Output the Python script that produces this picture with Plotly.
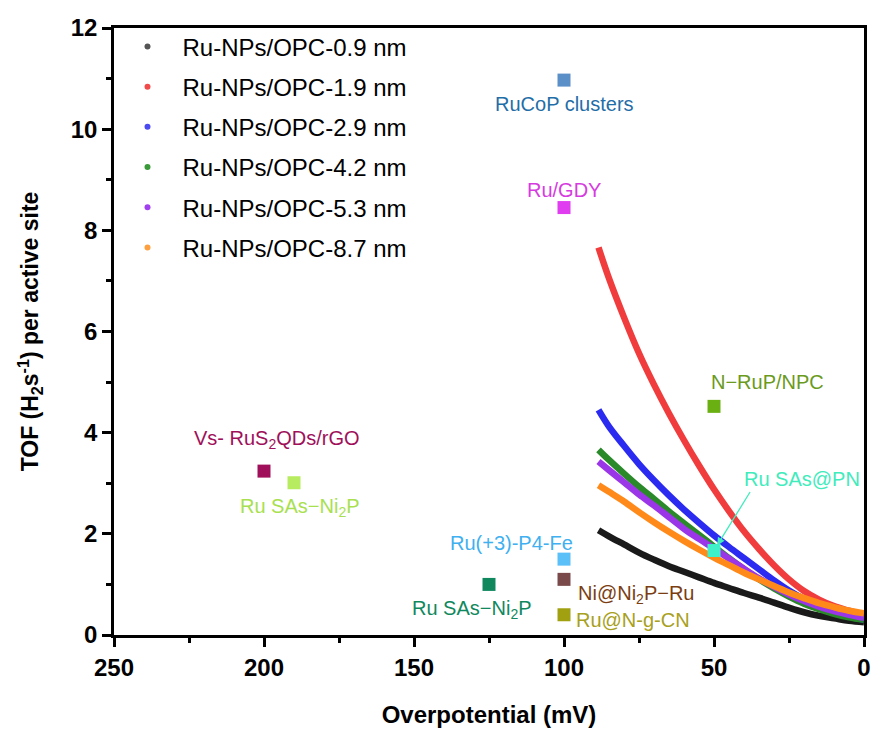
import plotly.graph_objects as go

# ---- curve data (overpotential mV vs TOF) ----
overpotential = [0, 5, 10, 15, 20, 25, 30, 35, 40, 45, 50, 55, 60, 65, 70, 75, 80, 85, 88.5]
tof_0_9 = [0.25, 0.28, 0.33, 0.38, 0.45, 0.54, 0.64, 0.74, 0.83, 0.93, 1.03, 1.14, 1.25, 1.36, 1.49, 1.63, 1.79, 1.95, 2.07]
tof_1_9 = [0.40, 0.48, 0.57, 0.70, 0.87, 1.10, 1.38, 1.70, 2.05, 2.45, 2.88, 3.35, 3.85, 4.38, 4.95, 5.57, 6.28, 7.05, 7.66]
tof_2_9 = [0.30, 0.37, 0.46, 0.57, 0.71, 0.88, 1.08, 1.30, 1.52, 1.74, 1.97, 2.22, 2.48, 2.76, 3.06, 3.38, 3.74, 4.12, 4.45]
tof_4_2 = [0.30, 0.35, 0.42, 0.51, 0.62, 0.76, 0.92, 1.10, 1.30, 1.52, 1.75, 1.98, 2.21, 2.44, 2.69, 2.93, 3.19, 3.46, 3.66]
tof_5_3 = [0.34, 0.40, 0.47, 0.56, 0.67, 0.80, 0.95, 1.12, 1.31, 1.51, 1.71, 1.90, 2.10, 2.33, 2.56, 2.78, 3.02, 3.26, 3.43]
tof_8_7 = [0.43, 0.48, 0.55, 0.63, 0.73, 0.84, 0.97, 1.10, 1.23, 1.38, 1.53, 1.69, 1.86, 2.04, 2.23, 2.43, 2.64, 2.83, 2.96]

series_names = ["Ru-NPs/OPC-0.9 nm", "Ru-NPs/OPC-1.9 nm", "Ru-NPs/OPC-2.9 nm",
                "Ru-NPs/OPC-4.2 nm", "Ru-NPs/OPC-5.3 nm", "Ru-NPs/OPC-8.7 nm"]
series_values = [tof_0_9, tof_1_9, tof_2_9, tof_4_2, tof_5_3, tof_8_7]
series_colors = ["#1a1a1a", "#f03c3c", "#2a2af0", "#2a8a2a", "#9a35e8", "#ff8a1a"]
legend_colors = ["#555555", "#f04a4a", "#4a4af0", "#3a9a3a", "#a040f0", "#ffa040"]

# ---- literature points ----
ref_labels = ["RuCoP clusters", "Ru/GDY", "N\u2212RuP/NPC", "Ru SAs@PN",
              "Vs- RuS<sub>2</sub>QDs/rGO", "Ru SAs\u2212Ni<sub>2</sub>P", "Ru(+3)-P4-Fe",
              "Ni@Ni<sub>2</sub>P\u2212Ru", "Ru@N-g-CN", "Ru SAs\u2212Ni<sub>2</sub>P"]
ref_x = [100, 100, 50, 50, 200, 190, 100, 100, 100, 125]
ref_y = [10.97, 8.45, 4.52, 1.67, 3.24, 3.01, 1.50, 1.10, 0.40, 1.00]
ref_marker_colors = ["#5b8fc8", "#e03cf0", "#6ab012", "#3ff0c8", "#a0105a",
                     "#b8ec60", "#5cc0f8", "#7a4a4a", "#a0a010", "#10885e"]
ref_text_colors = ["#1f6ea8", "#d63be0", "#6a9a20", "#40ecbc", "#a0105a",
                   "#a8e050", "#40b0f0", "#7a3e12", "#a8a020", "#10885e"]
label_shift = [(0, -24), (0, 18), (53, 24), (88, 72), (13, 32), (6, -25),
               (-53, 16), (72, -15), (69, -5), (-17, -25)]

FONT = "Liberation Sans, Arial, sans-serif"

fig = go.Figure()

for i, (name, vals, col) in enumerate(zip(series_names, series_values, series_colors)):
    fig.add_trace(go.Scatter(
        x=overpotential, y=vals, mode="lines",
        line=dict(color=col, width=6.5, shape="spline", smoothing=1.0),
        showlegend=False, hoverinfo="skip"))
for i, (name, col) in enumerate(zip(series_names, legend_colors)):
    fig.add_trace(go.Scatter(
        x=[None], y=[None], mode="markers", name=name,
        marker=dict(color=col, size=6),
        legendgroup="g%d" % i, showlegend=True))

fig.add_trace(go.Scatter(
    x=ref_x, y=ref_y, mode="markers", showlegend=False,
    marker=dict(symbol="square", size=13, color=ref_marker_colors, line=dict(width=0))))

annotations = []
for lab, x, y, tc, (dx, dy) in zip(ref_labels, ref_x, ref_y, ref_text_colors, label_shift):
    annotations.append(dict(x=x, y=y, xref="x", yref="y", text=lab, showarrow=False,
                            xshift=dx, yshift=dy,
                            font=dict(family=FONT, size=20, color=tc)))
# arrow for Ru SAs@PN
annotations.append(dict(x=ref_x[3], y=ref_y[3], xref="x", yref="y", text="",
                        showarrow=True, ax=37, ay=-60, arrowhead=2, arrowsize=1.2,
                        arrowwidth=1.3, arrowcolor="#40ecbc", standoff=6))

fig.update_layout(
    width=879, height=742,
    margin=dict(l=114, r=8, t=28, b=107),
    paper_bgcolor="white", plot_bgcolor="white",
    font=dict(family=FONT, color="black"),
    annotations=annotations,
    legend=dict(x=-0.002, y=1.006, xanchor="left", yanchor="top",
                font=dict(family=FONT, size=24, color="black"),
                bgcolor="rgba(0,0,0,0)", traceorder="grouped", tracegroupgap=6,
                itemwidth=60),
    xaxis=dict(range=[250, 0], tickvals=[250, 200, 150, 100, 50, 0],
               showline=True, linewidth=2.5, linecolor="black", mirror=True,
               ticks="outside", ticklen=9, tickwidth=2.5, tickcolor="black",
               minor=dict(tickvals=[225, 175, 125, 75, 25], ticks="outside",
                          ticklen=5, tickwidth=2.5, tickcolor="black"),
               showgrid=False, zeroline=False,
               tickfont=dict(family=FONT, size=24, color="black", weight="bold"),
               title=dict(text="<b>Overpotential (mV)</b>", standoff=27,
                          font=dict(family=FONT, size=24, color="black"))),
    yaxis=dict(range=[0, 12], tickvals=[0, 2, 4, 6, 8, 10, 12],
               showline=True, linewidth=2.5, linecolor="black", mirror=True,
               ticks="outside", ticklen=9, tickwidth=2.5, tickcolor="black",
               minor=dict(tickvals=[1, 3, 5, 7, 9, 11], ticks="outside",
                          ticklen=5, tickwidth=2.5, tickcolor="black"),
               showgrid=False, zeroline=False,
               tickfont=dict(family=FONT, size=24, color="black", weight="bold"),
               title=dict(text="<b>TOF (H<sub>2</sub>s<sup>-1</sup>) per active site</b>",
                          standoff=26,
                          font=dict(family=FONT, size=23, color="black"))),
)

fig.write_html("out.html")
